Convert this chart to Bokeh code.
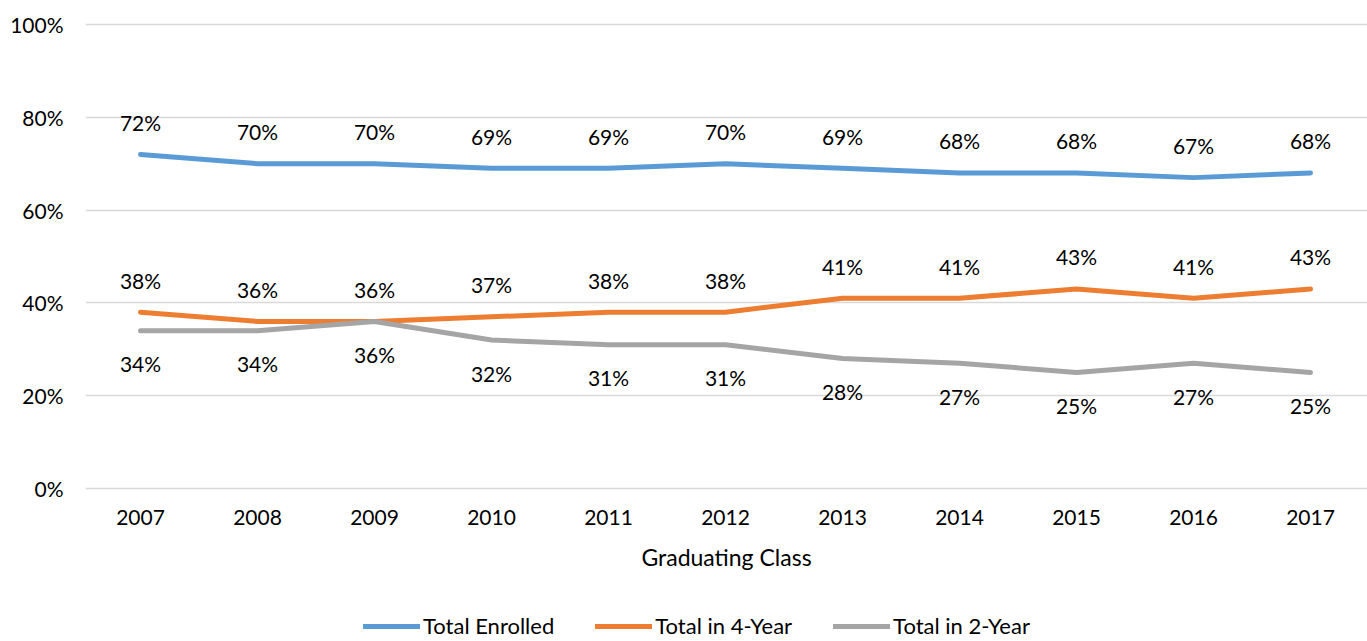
from bokeh.plotting import figure
from bokeh.layouts import column
from bokeh.models import Range1d, FixedTicker, Legend, LegendItem, ColumnDataSource
from bokeh.embed import file_html
from bokeh.resources import INLINE
from bokeh.core.properties import value

years = ["2007", "2008", "2009", "2010", "2011", "2012", "2013", "2014", "2015", "2016", "2017"]
total_enrolled = [72, 70, 70, 69, 69, 70, 69, 68, 68, 67, 68]
total_4yr = [38, 36, 36, 37, 38, 38, 41, 41, 43, 41, 43]
total_2yr = [34, 34, 36, 32, 31, 31, 28, 27, 25, 27, 25]
y_ticks = [0, 20, 40, 60, 80, 100]
series_names = ["Total Enrolled", "Total in 4-Year", "Total in 2-Year"]
series_colors = ["#5B9BD5", "#ED7D31", "#A5A5A5"]

FONT = "Lato"
x = list(range(len(years)))

p = figure(width=1367, height=600, output_backend="svg", toolbar_location=None,
           x_range=Range1d(-0.4701, 10.487), y_range=Range1d(-1.08, 101.08),
           min_border_left=85, min_border_right=0, min_border_top=19, min_border_bottom=107)
p.outline_line_color = None
p.background_fill_color = "white"
p.border_fill_color = "white"

p.xgrid.grid_line_color = None
p.ygrid.grid_line_color = "#D9D9D9"
p.ygrid.grid_line_width = 1.5
p.ygrid.ticker = FixedTicker(ticks=y_ticks)

p.yaxis.ticker = FixedTicker(ticks=y_ticks)
p.yaxis.major_label_overrides = {t: f"{t}%" for t in y_ticks}
p.xaxis.ticker = FixedTicker(ticks=x)
p.xaxis.major_label_overrides = {i: y for i, y in enumerate(years)}
for ax in (p.xaxis, p.yaxis):
    ax.axis_line_color = None
    ax.major_tick_line_color = None
    ax.minor_tick_line_color = None
    ax.major_tick_out = 0
    ax.major_tick_in = 0
    ax.major_label_text_font = FONT
    ax.major_label_text_font_size = "21px"
    ax.major_label_text_color = "#000000"
p.yaxis.major_label_standoff = 22
p.xaxis.major_label_standoff = 16
p.xaxis.axis_label = "Graduating Class"
p.xaxis.axis_label_text_font = FONT
p.xaxis.axis_label_text_font_size = "23px"
p.xaxis.axis_label_text_font_style = "normal"
p.xaxis.axis_label_text_color = "#000000"
p.xaxis.axis_label_standoff = 15

series_values = [total_enrolled, total_4yr, total_2yr]
label_offsets = [-32, -32, 33]
for vals, color, off in zip(series_values, series_colors, label_offsets):
    src = ColumnDataSource(dict(x=x, y=vals, lab=[f"{v}%" for v in vals]))
    p.line("x", "y", source=src, line_color=color, line_width=5, line_cap="round", line_join="round")
    p.text("x", "y", text="lab", source=src, y_offset=off, text_align="center", text_baseline="middle",
           text_font=value(FONT), text_font_size="21px", text_color="#000000")

# legend strip below the chart (series drawn out of view; only the legend shows)
lg = figure(width=1367, height=41, output_backend="svg", toolbar_location=None,
            x_range=Range1d(0, 1), y_range=Range1d(1000, 1001),
            min_border_left=0, min_border_right=0, min_border_top=0, min_border_bottom=0)
lg.axis.visible = False
lg.grid.visible = False
lg.outline_line_color = None
lg.background_fill_color = "white"
lg.border_fill_color = "white"
items = []
for name, vals, color in zip(series_names, series_values, series_colors):
    r = lg.line(x=x, y=vals, line_color=color, line_width=5, line_cap="round")
    items.append(LegendItem(label=name, renderers=[r]))
legend = Legend(items=items, orientation="horizontal", location=(278, 2),
                glyph_width=57, glyph_height=20, label_standoff=3, spacing=41,
                padding=0, margin=0, border_line_color=None, background_fill_alpha=0,
                label_text_font=FONT, label_text_font_size="22px", label_text_color="#000000")
lg.add_layout(legend, "center")

layout = column(p, lg, spacing=0)
open("out.html", "w").write(file_html(layout, INLINE))
